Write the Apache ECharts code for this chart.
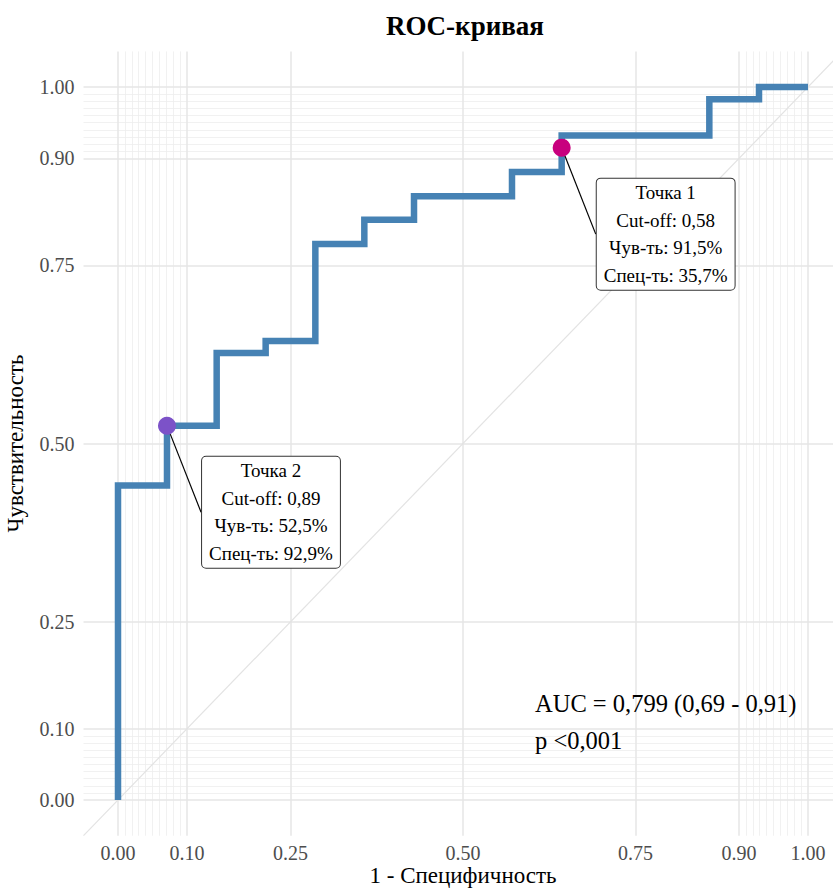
<!DOCTYPE html>
<html>
<head>
<meta charset="utf-8">
<script src="https://cdn.jsdelivr.net/npm/echarts@6/dist/echarts.min.js"></script>
<style>
html,body{margin:0;padding:0;background:#fff;}
#chart{width:833px;height:890px;}
</style>
</head>
<body>
<div id="chart"></div>
<script>
// ROC step points (1 - specificity, sensitivity)
const fpr = [0, 0, 0.071, 0.143, 0.214, 0.286, 0.357, 0.429, 0.571, 0.643, 0.857, 0.929, 1.0];
const tpr = [0, 0.441, 0.525, 0.627, 0.644, 0.780, 0.814, 0.847, 0.881, 0.932, 0.983, 1.0, 1.0];

// highlighted cut-off points
const pointNames = ['Точка 1', 'Точка 2'];
const pointX = [0.643, 0.071];
const pointY = [0.915, 0.525];
const pointCutoff = ['0,58', '0,89'];
const pointSens = ['91,5%', '52,5%'];
const pointSpec = ['35,7%', '92,9%'];
const pointColors = ['#C8007E', '#7C52C8'];

// axis ticks
const tickValues = [0, 0.1, 0.25, 0.5, 0.75, 0.9, 1];
const minorTicks = [0.01,0.02,0.03,0.04,0.05,0.06,0.07,0.08,0.09,0.91,0.92,0.93,0.94,0.95,0.96,0.97,0.98,0.99];
const diagonal = [[-0.05, -0.05], [1.05, 1.05]];

const aucText = 'AUC = 0,799 (0,69 - 0,91)\np <0,001';

const FONT = '"Liberation Serif", "DejaVu Serif", serif';
const GRID_MAJOR = '#E6E6E6';
const GRID_MINOR = '#EEEEEE';

const gridLines = [];
minorTicks.forEach(v => {
  gridLines.push({xAxis: v, lineStyle: {color: GRID_MINOR, width: 0.8, type: 'solid'}});
  gridLines.push({yAxis: v, lineStyle: {color: GRID_MINOR, width: 0.8, type: 'solid'}});
});
tickValues.forEach(v => {
  gridLines.push({xAxis: v, lineStyle: {color: GRID_MAJOR, width: 1.5, type: 'solid'}});
  gridLines.push({yAxis: v, lineStyle: {color: GRID_MAJOR, width: 1.5, type: 'solid'}});
});

const rocData = fpr.map((x, i) => [x, tpr[i]]);
const pointData = pointX.map((x, i) => ({
  value: [x, pointY[i]],
  itemStyle: {color: pointColors[i], opacity: 1},
  label: {
    formatter: pointNames[i] + '\nCut-off: ' + pointCutoff[i] + '\nЧув-ть: ' + pointSens[i] + '\nСпец-ть: ' + pointSpec[i]
  }
}));

const chart = echarts.init(document.getElementById('chart'), null, {renderer: 'svg'});
chart.setOption({
  backgroundColor: '#ffffff',
  animation: false,
  title: [
    {text: 'ROC-кривая', left: 465, top: 12, textAlign: 'center', padding: 0,
     textStyle: {fontFamily: FONT, fontWeight: 'bold', fontSize: 27, color: '#000'}},
    {text: aucText, left: 535, top: 685, padding: 0,
     textStyle: {fontFamily: FONT, fontWeight: 'normal', fontSize: 24.5, lineHeight: 37, color: '#000'}}
  ],
  grid: {left: 83.5, top: 51.4, width: 759, height: 784.3, containLabel: false, outerBoundsMode: 'none'},
  xAxis: {
    type: 'value', min: -0.05, max: 1.05,
    name: '1 - Специфичность', nameLocation: 'middle', nameGap: 28, nameMoveOverlap: false,
    nameTextStyle: {fontFamily: FONT, fontSize: 23, lineHeight: 23, color: '#000'},
    axisLine: {show: false}, axisTick: {show: false, customValues: tickValues},
    splitLine: {show: false},
    axisLabel: {customValues: tickValues, formatter: v => v.toFixed(2), margin: 7,
      fontFamily: FONT, fontSize: 20, color: '#4D4D4D'}
  },
  yAxis: {
    type: 'value', min: -0.05, max: 1.05,
    name: 'Чувствительность', nameLocation: 'middle', nameGap: 57, nameRotate: 90,
    nameTextStyle: {fontFamily: FONT, fontSize: 23, color: '#000'},
    axisLine: {show: false}, axisTick: {show: false, customValues: tickValues},
    splitLine: {show: false},
    axisLabel: {customValues: tickValues, formatter: v => v.toFixed(2), margin: 9,
      fontFamily: FONT, fontSize: 20, color: '#4D4D4D'}
  },
  series: [
    {
      type: 'line', data: diagonal, symbol: 'none', silent: true, z: 1,
      lineStyle: {color: '#E3E3E3', width: 1.2},
      markLine: {silent: true, symbol: ['none', 'none'], label: {show: false},
        animation: false, data: gridLines, z: 0}
    },
    {
      type: 'line', data: rocData, step: 'end', symbol: 'none', z: 3,
      lineStyle: {color: '#4682B4', width: 6.5, cap: 'butt', join: 'miter'}
    },
    {
      type: 'scatter', data: pointData, symbol: 'circle', symbolSize: 18, z: 5,
      label: {
        show: true, position: 'inside',
        fontFamily: FONT, fontSize: 19, lineHeight: 27.5, color: '#000', align: 'center',
        backgroundColor: '#ffffff', borderColor: '#333333', borderWidth: 1, borderRadius: 4,
        padding: [1, 7, 0, 7]
      },
      labelLayout: {dx: 104, dy: 86.5},
      labelLine: {show: true, lineStyle: {color: '#000', width: 1.2}}
    }
  ]
});
</script>
</body>
</html>
